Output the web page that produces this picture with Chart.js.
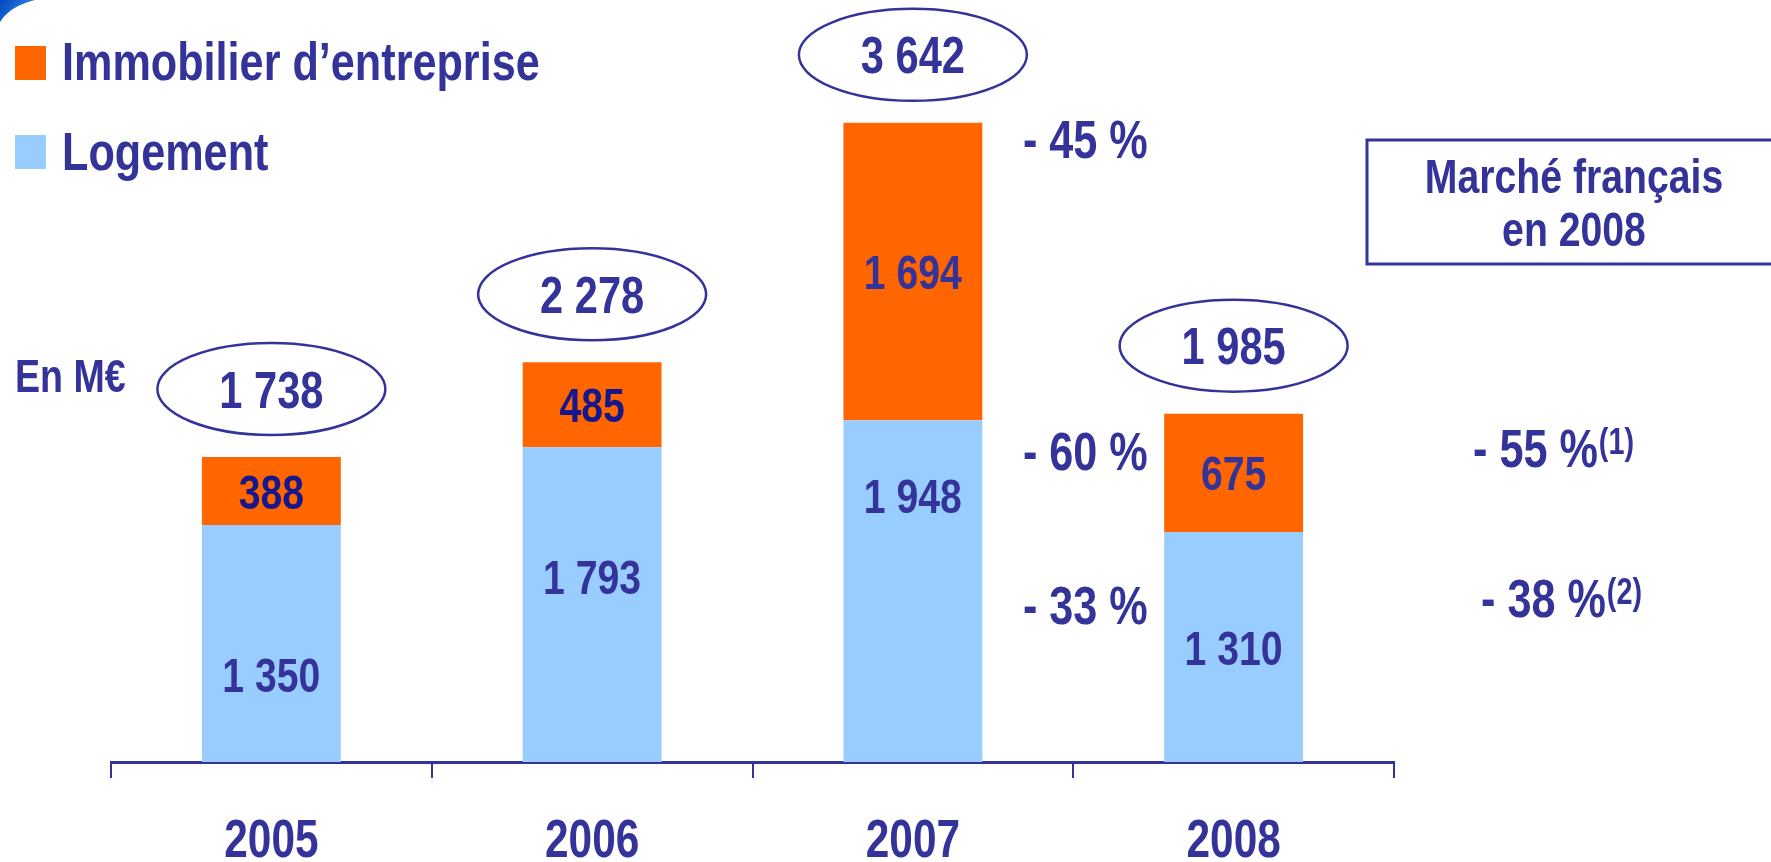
<!DOCTYPE html>
<html>
<head>
<meta charset="utf-8">
<script src="https://cdn.jsdelivr.net/npm/chart.js@4.4.1/dist/chart.umd.min.js"></script>
<style>
html,body{margin:0;padding:0;background:#fff;overflow:hidden}
#wrap{width:1771px;height:862px;position:relative}
</style>
</head>
<body>
<div id="wrap"><canvas id="c" width="1771" height="862"></canvas></div>
<script>
// ---- data ----
const categories = ['2005', '2006', '2007', '2008'];
const logement = [1350, 1793, 1948, 1310];
const immobilier = [388, 485, 1694, 675];
const seriesNames = ['Logement', 'Immobilier d’entreprise'];
const changeLabels = ['- 45 %', '- 60 %', '- 33 %'];
const marketLabels = ['- 55 %', '- 38 %'];
const marketNotes = ['(1)', '(2)'];
const unitLabel = 'En M€';
const boxTitle = ['Marché français', 'en 2008'];

// ---- layout / style (not data) ----
const FAM = "'Liberation Sans', Arial, sans-serif";
const NX = 0.8;          // horizontal condensing (narrow face emulation)
const TEXT = '#333399';
const DARK = '#17178c';
const ORANGE = '#FF6600';
const BLUE = '#99CCFF';
const logementLabelFrac = [0.63, 0.41, 0.22, 0.50];
const changeAnchorValues = [3550, 1772, 895];
const marketAnchorValues = [1789, 934];
const marketOffsets = [79, 87];

function fmt(n) { return String(n).replace(/\B(?=(\d{3})+(?!\d))/g, ' '); }

function txtWidth(ctx, s, size) {
  ctx.save(); ctx.font = 'bold ' + size + 'px ' + FAM;
  const w = ctx.measureText(s).width * NX; ctx.restore(); return w;
}

function txt(ctx, s, x, yMid, size, align, color) {
  ctx.save();
  ctx.font = 'bold ' + size + 'px ' + FAM;
  ctx.fillStyle = color;
  ctx.textAlign = align;
  ctx.textBaseline = 'alphabetic';
  ctx.translate(x, yMid + 0.358 * size);
  ctx.scale(NX, 1);
  ctx.fillText(s, 0, 0);
  ctx.restore();
}

const narrowTicks = {
  id: 'narrowTicks',
  beforeDraw(chart) {
    const s = chart.scales.x;
    if (s._narrowed) return;
    s._narrowed = true;
    s.drawLabels = function (chartArea) {
      const ctx = this.ctx;
      const items = this.getLabelItems(chartArea);
      for (const item of items) {
        const o = item.options;
        const [x, y] = o.translation;
        ctx.save();
        ctx.translate(x, y + item.textOffset);
        ctx.scale(NX, 1);
        ctx.font = item.font.string;
        ctx.fillStyle = o.color;
        ctx.textAlign = o.textAlign;
        ctx.textBaseline = o.textBaseline;
        ctx.fillText(item.label, 0, 0);
        ctx.restore();
      }
    };
  }
};

const annot = {
  id: 'annot',
  afterDatasetsDraw(chart) {
    const ctx = chart.ctx;
    const xs = chart.scales.x, ys = chart.scales.y;
    const mBlue = chart.getDatasetMeta(0), mOr = chart.getDatasetMeta(1);

    // swoosh top-left
    ctx.save();
    const g = ctx.createLinearGradient(0, 0, 30, 20);
    g.addColorStop(0, '#0048c0'); g.addColorStop(1, '#3c8ae6');
    ctx.fillStyle = g;
    ctx.beginPath(); ctx.moveTo(0, 0); ctx.lineTo(35, 0);
    ctx.quadraticCurveTo(10, 6, 0, 22); ctx.closePath(); ctx.fill();
    ctx.restore();

    categories.forEach((c, i) => {
      const eb = mBlue.data[i], eo = mOr.data[i];
      txt(ctx, fmt(immobilier[i]), eo.x, (eo.y + eo.base) / 2, 49, 'center', immobilier[i] < 600 ? DARK : TEXT);
      const yb = eb.y + (eb.base - eb.y) * logementLabelFrac[i];
      txt(ctx, fmt(logement[i]), eb.x, yb, 49, 'center', TEXT);
      const total = logement[i] + immobilier[i];
      const cy = ys.getPixelForValue(total) - 68;
      ctx.save();
      ctx.strokeStyle = TEXT; ctx.lineWidth = 2.5;
      ctx.beginPath(); ctx.ellipse(eo.x, cy, 114, 46, 0, 0, Math.PI * 2); ctx.stroke();
      ctx.restore();
      txt(ctx, fmt(total), eo.x, cy, 52, 'center', TEXT);
    });

    const cx = xs.getPixelForValue(2) + 110;
    changeLabels.forEach((s, k) => txt(ctx, s, cx, ys.getPixelForValue(changeAnchorValues[k]), 54, 'left', TEXT));

    marketLabels.forEach((s, k) => {
      const x = chart.chartArea.right + marketOffsets[k];
      const y = ys.getPixelForValue(marketAnchorValues[k]);
      txt(ctx, s, x, y, 54, 'left', TEXT);
      const w = txtWidth(ctx, s, 54);
      txt(ctx, marketNotes[k], x + w + 1, y - 7, 36, 'left', TEXT);
    });

    ctx.save();
    ctx.strokeStyle = TEXT; ctx.lineWidth = 3;
    ctx.strokeRect(1367, 140, 500, 124);
    ctx.restore();
    txt(ctx, boxTitle[0], 1574, 175, 49, 'center', TEXT);
    txt(ctx, boxTitle[1], 1574, 228, 49, 'center', TEXT);

    txt(ctx, unitLabel, 15, 375, 47, 'left', TEXT);

    const legendItems = [[1, 46, 61], [0, 135, 151]];
    legendItems.forEach(([di, sy, ty]) => {
      ctx.save();
      ctx.fillStyle = chart.data.datasets[di].backgroundColor;
      ctx.fillRect(15, sy, 31, 34);
      ctx.restore();
      txt(ctx, chart.data.datasets[di].label, 62, ty, 54, 'left', TEXT);
    });
  }
};

new Chart(document.getElementById('c'), {
  type: 'bar',
  data: {
    labels: categories,
    datasets: [
      { label: seriesNames[0], data: logement, backgroundColor: BLUE, borderWidth: 0, stack: 's' },
      { label: seriesNames[1], data: immobilier, backgroundColor: ORANGE, borderWidth: 0, stack: 's' }
    ]
  },
  options: {
    responsive: false,
    animation: false,
    devicePixelRatio: 1,
    layout: { padding: { left: 111, right: 377, top: 60, bottom: 2 } },
    datasets: { bar: { barPercentage: 0.433, categoryPercentage: 1 } },
    plugins: { legend: { display: false }, tooltip: { enabled: false } },
    scales: {
      x: {
        stacked: true,
        afterFit: (s) => { s.height = 98; },
        grid: { display: true, drawOnChartArea: false, offset: true, tickLength: 16, color: TEXT, lineWidth: 2 },
        border: { display: true, color: TEXT, width: 3 },
        ticks: { color: TEXT, font: { family: FAM, size: 53, weight: 'bold', lineHeight: 0.8 }, padding: 43, maxRotation: 0, autoSkip: false }
      },
      y: { stacked: true, display: false, min: 0, max: 4000 }
    }
  },
  plugins: [narrowTicks, annot]
});
</script>
</body>
</html>
